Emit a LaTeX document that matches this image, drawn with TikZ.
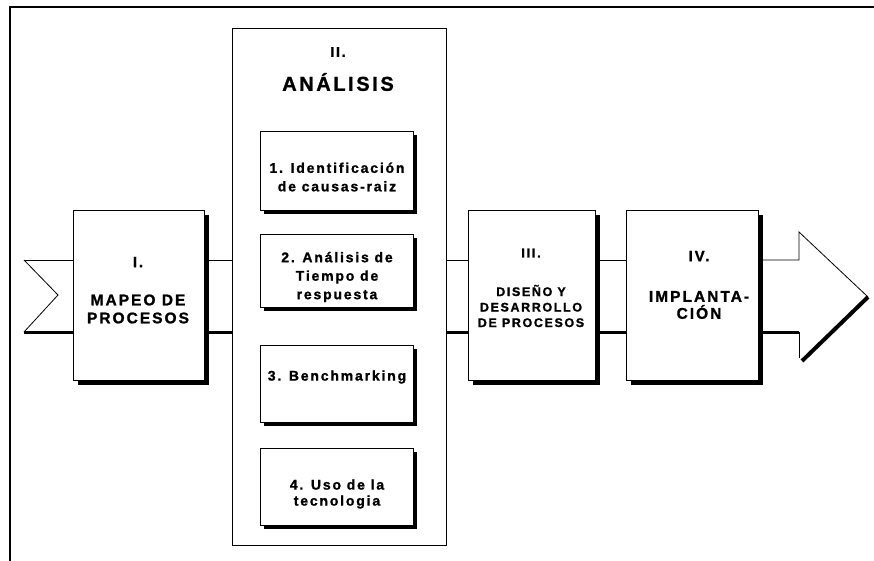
\documentclass[tikz,border=0pt]{standalone}
\usepackage{fontspec}
\setmainfont{Liberation Sans}
\newfontfamily\lab[LetterSpace=13, FakeBold=1.2]{Liberation Sans Bold}
\usetikzlibrary{shadows}
\newcommand{\fz}[2]{\lab\fontsize{#1}{#2}\selectfont}
\begin{document}
\begin{tikzpicture}[x=1pt,y=-1pt,
  box/.style={draw, fill=white, line width=0.9pt, inner sep=0pt, anchor=north west},
  sbox/.style={box, drop shadow={shadow xshift=5pt, shadow yshift=-5pt, fill=black, opacity=1}},
  ibox/.style={box, drop shadow={shadow xshift=4pt, shadow yshift=-4pt, fill=black, opacity=1}},
  txt/.style={inner sep=0pt, align=center},
  thin/.style={line width=0.8pt},
  thick/.style={line width=3pt}]
\useasboundingbox (0,0) rectangle (874,561);
% outer frame (top and left edges)
\draw[line width=1.6pt] (10,561) -- (10,7) -- (874,7);
% boxes
\node[box, minimum width=214, minimum height=517] (b2) at (232,28) {};
\node[sbox, minimum width=131, minimum height=170] (b1) at (73,210) {};
\node[sbox, minimum width=127, minimum height=170] (b3) at (468,210) {};
\node[sbox, minimum width=132, minimum height=170] (b4) at (626,210) {};
\node[ibox, minimum width=153, minimum height=79] (s1) at (260,131) {};
\node[ibox, minimum width=153, minimum height=73] (s2) at (260,234) {};
\node[ibox, minimum width=153, minimum height=77] (s3) at (260,345) {};
\node[ibox, minimum width=153, minimum height=77] (s4) at (260,448) {};
% band coordinates
\coordinate (nt) at (24,260);
\coordinate (nm) at (58,295);
\coordinate (nb) at (24,332);
\coordinate (ht) at (799,260);
\coordinate (hu) at (799,232);
\coordinate (tip) at (868,297);
\coordinate (hb) at (799,332);
\coordinate (hd) at (799,358);
\coordinate (hl) at (802,361);
% notch
\draw[thin] (nt) -- (nm) -- (nb);
% top band line
\draw[thin] (nt) -- (b1.west |- nt);
\draw[thin] (b1.east |- nt) -- (b2.west |- nt);
\draw[thin] (b2.east |- nt) -- (b3.west |- nt);
\draw[thin] (b3.east |- nt) -- (b4.west |- nt);
\draw[thin] (b4.east |- nt) -- (ht) -- (hu) -- (tip);
% bottom band line
\draw[thick] (nb) -- (b1.west |- nb);
\draw[thick] (b1.east |- nb) -- (b2.west |- nb);
\draw[thick] (b2.east |- nb) -- (b3.west |- nb);
\draw[thick] (b3.east |- nb) -- (b4.west |- nb);
\draw[thick] (b4.east |- nb) -- (hb);
\draw[thin] (hb) -- (hd);
\draw[line width=4pt] (tip) -- (hl);
% texts
\node[txt, font=\fz{15}{18}] (t1a) at (138,262) {I.};
\node[txt, font=\fz{15.5}{18}] (t1b) at (138,309) {MAPEO DE\\PROCESOS};
\node[txt, font=\fz{14}{18}] (t2a) at (338,52) {II.};
\node[txt, font=\fz{20}{24}] (t2b) at (338,82) {ANÁLISIS};
\node[txt, font=\fz{14}{18.5}] (u1) at (337,177) {1. Identificación\\de causas-raiz};
\node[txt, font=\fz{14}{18.5}] (u2) at (337,277) {2. Análisis de\\Tiempo de\\respuesta};
\node[txt, font=\fz{14}{18.5}] (u3) at (337,377) {3. Benchmarking};
\node[txt, font=\fz{14}{16}] (u4) at (337,494) {4. Uso de la\\tecnologia};
\node[txt, font=\fz{13}{16}] (t3a) at (531,253) {III.};
\node[txt, font=\fz{12.5}{15.5}] (t3b) at (531,306) {DISEÑO Y\\DESARROLLO\\DE PROCESOS};
\node[txt, font=\fz{15}{18}] (t4a) at (699,256) {IV.};
\node[txt, font=\fz{15.5}{17}] (t4b) at (699,305) {IMPLANTA-\\CIÓN};
\end{tikzpicture}
\end{document}
